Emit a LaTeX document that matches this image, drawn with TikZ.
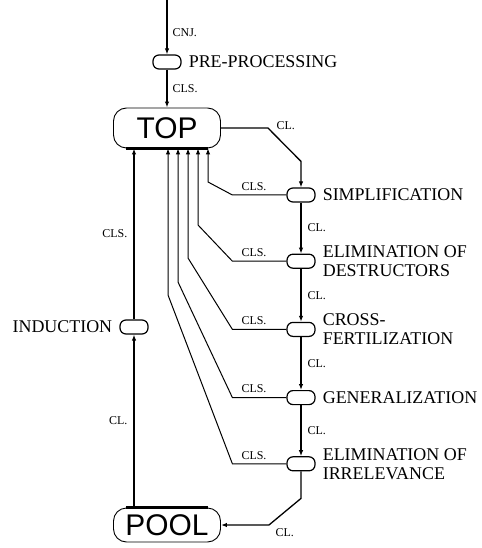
\documentclass[tikz,border=0pt]{standalone}
\usepackage{fontspec}
\setmainfont{Liberation Serif}
\newfontfamily\storefont{Liberation Sans}
\usetikzlibrary{arrows.meta, positioning, calc}

\begin{document}
\begin{tikzpicture}[
    x=1bp, y=-1bp,
    node distance=51bp,
    stage/.style={rectangle, draw, rounded corners=6bp, minimum width=28bp, minimum height=14bp, inner sep=0pt, line width=1.2bp},
    store/.style={rectangle, draw, rounded corners=13bp, minimum width=107bp, inner sep=0pt, line width=0.9bp, font=\storefont\fontsize{30}{30}\selectfont},
    stagetext/.style={inner sep=0pt, align=left, font=\fontsize{18}{19}\selectfont},
    tag/.style={inner sep=0pt, font=\fontsize{12}{12}\selectfont},
    arrow/.style={-{Latex[length=6bp, width=4.5bp]}, line width=1.3bp},
    back/.style={-{Latex[length=6bp, width=4.5bp]}, line width=1bp}
]
    \useasboundingbox (0,0) rectangle (482,548);

    % Entry and pre-processing
    \coordinate (in) at (167,0);
    \node[stage] (pre) at (167,62) {};
    \node[stagetext, right=7bp of pre] (pretext) {PRE-PROCESSING};

    % Stores
    \node[store, minimum height=40bp] (top) at (167,128) {TOP};
    \node[store, minimum height=34bp] (pool) at (167,525) {POOL};
    \draw[line width=2.2bp] ([xshift=13bp]top.south west) -- ([xshift=-13bp]top.south east);
    \draw[line width=2.2bp] ([xshift=13bp]pool.north west) -- ([xshift=-13bp]pool.north east);

    % Right column of stages
    \node[stage] (simp) at (301,195) {};
    \node[stage, below=51bp of simp] (destr) {};
    \node[stage, below=53bp of destr] (cross) {};
    \node[stage, below=53bp of cross] (gen) {};
    \node[stage, below=51bp of gen] (irr) {};
    \node[stagetext, right=7bp of simp] (simptext) {SIMPLIFICATION};
    \node[stagetext, right=7bp of destr] (destrtext) {ELIMINATION OF\\DESTRUCTORS};
    \node[stagetext, right=7bp of cross] (crosstext) {CROSS-\\FERTILIZATION};
    \node[stagetext, right=7bp of gen] (gentext) {GENERALIZATION};
    \node[stagetext, right=7bp of irr] (irrtext) {ELIMINATION OF\\IRRELEVANCE};

    % Induction on the left
    \node[stage] (ind) at (134,327) {};
    \node[stagetext, left=7bp of ind] (indtext) {INDUCTION};

    % Main flow
    \draw[arrow] (in) -- (pre.north) node[tag, pos=0.6, right=5bp] (cnj) {CNJ.};
    \draw[arrow] (pre.south) -- (top.north) node[tag, midway, right=5bp] (clspre) {CLS.};
    \draw[arrow] (top.east) -- ++(47,0) node[tag, anchor=west, xshift=8bp, yshift=2bp] (cltop) {CL.}
        -- ($(simp.north)+(0,-26)$) -- (simp.north);
    \draw[arrow] (simp.south) -- (destr.north) node[tag, midway, right=6bp] (cl1) {CL.};
    \draw[arrow] (destr.south) -- (cross.north) node[tag, midway, right=6bp] (cl2) {CL.};
    \draw[arrow] (cross.south) -- (gen.north) node[tag, midway, right=6bp] (cl3) {CL.};
    \draw[arrow] (gen.south) -- (irr.north) node[tag, midway, right=6bp] (cl4) {CL.};
    \draw[arrow] (irr.south) -- ++(0,27) -- ($(pool.east)+(48,0)$)
        node[tag, anchor=north west, xshift=6bp, yshift=-3bp] (clpool) {CL.} -- (pool.east);

    % Induction loop
    \draw[arrow] (pool.north -| ind) -- (ind.south) node[tag, midway, left=6bp] (clind) {CL.};
    \draw[arrow] (ind.north) -- (top.south -| ind) node[tag, midway, left=6bp] (clsind) {CLS.};

    % Clauses sent back to TOP
    \foreach \s/\x/\b in {simp/208/182, destr/198/225, cross/188/258, gen/178/282, irr/168/295} {
        \coordinate (bend) at (\x,\b);
        \draw[back] (\s.west) -- ++(-54,0) node[tag, pos=0.6, above=4bp] {CLS.}
            -- (bend) -- (bend |- top.south);
    }

\end{tikzpicture}
\end{document}
